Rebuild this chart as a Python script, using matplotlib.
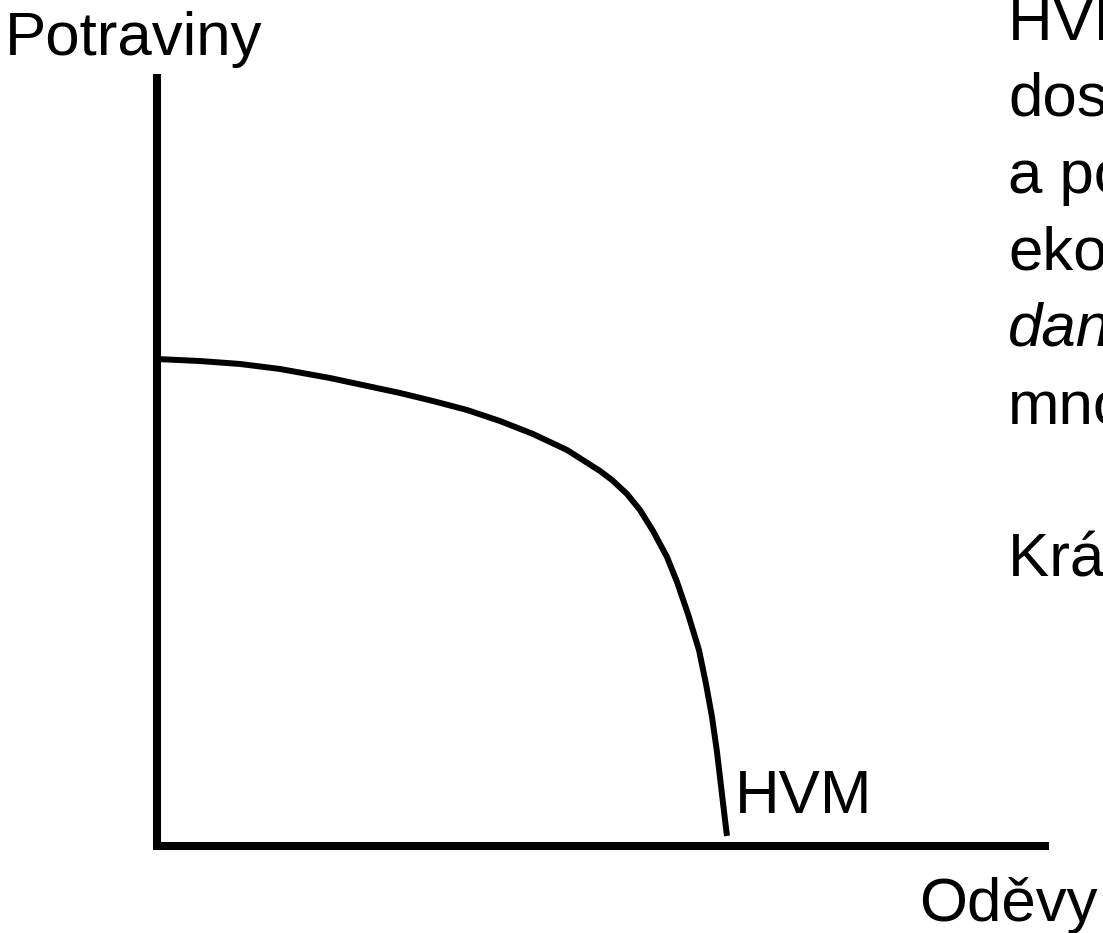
import matplotlib
matplotlib.use("Agg")
import matplotlib.pyplot as plt

plt.rcParams['font.family'] = ['Liberation Sans', 'DejaVu Sans']

# curve of production possibilities (HVM): oděvy (x) vs potraviny (y), 0-100 scale
odevy = [0, 4.82, 9.30, 13.79, 19.39, 27.24, 30.94, 34.75, 38.45, 42.15, 45.96, 49.66, 51.01,
         52.69, 54.15, 55.61, 57.17, 58.30, 59.53, 60.76, 61.55, 62.22, 62.78, 63.23, 63.68, 63.90]
potraviny = [63.08, 62.82, 62.44, 61.79, 60.62, 58.68, 57.64, 56.48, 55.05, 53.37, 51.30, 48.58, 47.41,
             45.60, 43.52, 40.80, 37.44, 34.20, 30.05, 25.39, 20.98, 16.71, 12.18, 7.77, 3.37, 1.30]

x_label = 'Oděvy'
y_label = 'Potraviny'
curve_label = 'HVM'

# side text (cut off at the right edge in the original slide)
side_lines = ['HVM ukazuje', 'dosažitelné', 'a potenciální', 'ekonomiky', 'daném', 'množství', '', 'Krátké období']
side_italic = [False, False, False, False, True, False, False, False]

W, H = 1103, 933
fig = plt.figure(figsize=(W / 100, H / 100), dpi=100)
ax = fig.add_axes([157 / W, (H - 846) / H, 892 / W, 772 / H])
ax.set_xlim(0, 100)
ax.set_ylim(0, 100)
ax.axis('off')

# axes drawn as thick black lines
ax.plot([0, 0], [100, -0.5], color='black', lw=5.8, solid_capstyle='butt', clip_on=False)
ax.plot([-0.45, 100], [0, 0], color='black', lw=5.8, solid_capstyle='butt', clip_on=False)

ax.plot(odevy, potraviny, color='black', lw=4.3, solid_capstyle='butt',
        solid_joinstyle='round', clip_on=False)

fs = 44.5


def px_text(x, y, s, **kw):
    fig.text(x / W, 1 - y / H, s, fontsize=fs, va='baseline', ha='left', **kw)


px_text(5, 55, y_label)
px_text(919, 921, x_label)
px_text(735, 813, curve_label)

base = 40
for i, (line, it) in enumerate(zip(side_lines, side_italic)):
    px_text(1008, base + i * 76.7, line, style='italic' if it else 'normal')

fig.savefig('out.png', dpi=100)
